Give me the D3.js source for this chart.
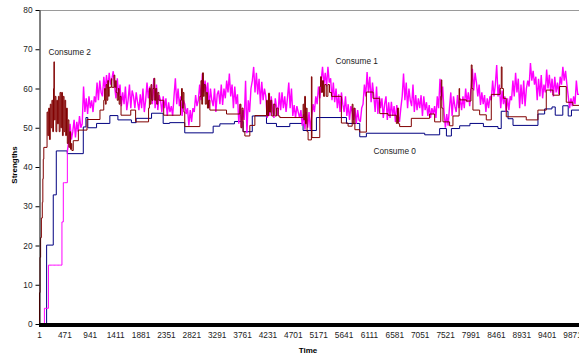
<!DOCTYPE html>
<html>
<head>
<meta charset="utf-8">
<script src="https://cdn.jsdelivr.net/npm/d3@7"></script>
<style>
  html, body { margin: 0; padding: 0; background: #fff; }
  svg { display: block; font-family: "Liberation Sans", Arial, sans-serif; }
</style>
</head>
<body>
<svg id="chart" width="579" height="355"></svg>
<script>
// Strength tick values and time-axis labels
const yTicks = [0, 10, 20, 30, 40, 50, 60, 70, 80];
const timeLabels = [1, 471, 941, 1411, 1881, 2351, 2821, 3291, 3761, 4231, 4701,
  5171, 5641, 6111, 6581, 7051, 7521, 7991, 8461, 8931, 9401, 9871];
const timeSteps = 10000;

// Consume 0: step changes as [time, strength]
const consume0 = [
  [1, 0], [142, 20.1], [265, 32.9], [321, 44.1], [524, 43.4], [821, 50.2], [870, 52.6],
  [905, 50.0], [1067, 51.1], [1313, 53.1], [1462, 52.0], [1712, 51.3], [1800, 52.4],
  [2085, 53.7], [2300, 51.1], [2420, 51.3], [2700, 48.7], [3226, 50.4], [3350, 51.0],
  [3620, 51.6], [3780, 49.0], [3950, 53.0], [4213, 51.1], [4398, 50.3], [4645, 51.1],
  [4891, 49.3], [5138, 52.6], [5694, 51.1], [5940, 47.7], [6063, 48.6], [7143, 48.2],
  [7420, 49.8], [7545, 47.9], [7637, 49.8], [7790, 50.5], [7980, 51.1], [8230, 50.3],
  [8500, 49.8], [8560, 54.2], [8686, 52.3], [8778, 50.6], [9240, 53.5], [9364, 54.8],
  [9500, 55.3], [9560, 53.2], [9700, 55.6], [9800, 53.0], [9860, 54.5], [10000, 54.5]
];

// Consume 1: strength sampled every 25 time steps, starting at time 1
const consume1Step = 25;
const consume1 = [
  0, 0, 0, 0, 4, 4, 4, 15, 15, 15, 15, 15, 15, 15, 15, 15, 15, 26, 36, 36,
  36, 44, 46.5, 51, 47, 49, 52, 47.5, 51.5, 49, 53, 50, 51, 60.5, 54, 57.5, 53.5, 58, 55, 57,
  54, 58, 56.5, 61.5, 57, 62, 59, 58, 63, 59.5, 63.4, 60, 64, 61, 62.5, 64.4, 60.5, 57.5, 62.6, 58,
  61, 55.5, 59, 56, 60.5, 54.5, 57, 61, 55, 59.5, 58, 55, 59, 56.5, 54.5, 58.5, 55, 60, 54, 57,
  61.5, 57.5, 60.5, 59, 56, 62.6, 55, 61, 54.5, 58.3, 57, 54, 58, 55, 57.5, 53, 56.5, 54, 55.5, 53,
  58, 62.6, 56, 60, 55.5, 58, 53, 57, 56, 53.5, 55, 50.5, 54.5, 51.5, 55, 54, 58.3, 55.5, 57, 61,
  57, 63.8, 59, 62, 58.5, 61.5, 55, 60, 57, 55.5, 60, 54, 58.5, 59.5, 56, 61, 55.8, 60, 57.5, 62,
  59, 63.8, 58, 61, 55, 60.5, 56, 58.5, 51, 56, 50, 54.5, 52, 62, 48.6, 57, 54, 60, 62, 65.5,
  59, 64, 58.5, 62.5, 56, 61.7, 57, 60, 58, 52.5, 57, 53, 58, 54.5, 52.5, 57.5, 55, 53, 59, 54.5,
  59, 55, 58, 54, 57.5, 61.5, 55, 60, 53, 55.8, 52.5, 55.5, 54, 52.5, 54.5, 50.5, 53.5, 49.5, 54, 50,
  54, 49.5, 53, 56, 54, 58, 56, 60.5, 57.5, 62, 65.5, 61, 64, 60.5, 65.5, 61.5, 62.6, 57, 61.5, 56.5,
  60, 55, 58.5, 54, 59, 56, 54, 58, 53, 56, 52, 55.5, 54, 52, 55, 51, 54.5, 52, 51.5, 55,
  56, 61, 58, 64.2, 59, 63, 56.5, 61.5, 58, 54, 60.5, 53.5, 58, 55, 57.5, 52.5, 56, 58, 52, 56.5,
  52.5, 56.6, 53, 55.5, 51.5, 55.8, 53, 51.5, 55, 58, 63.8, 57, 61.5, 55, 60, 57, 55.5, 61, 54, 58.3,
  54.5, 57.5, 55, 58.3, 53, 58, 54.5, 56.5, 53, 55.8, 52.5, 55, 53.5, 55.5, 52.5, 58, 55, 62.5, 57, 60.5,
  54, 50, 53.5, 50.5, 55, 59, 53, 58, 55.5, 54, 58.3, 55, 57.5, 54.5, 58, 55, 60, 56.5, 59, 55.5,
  60, 65, 59.5, 64, 61.5, 58, 61, 55.8, 59, 56, 58.3, 54, 57.5, 55, 58, 57, 62, 58, 61, 66,
  58, 61, 55, 59.5, 56, 58, 54, 57.5, 54.5, 58, 57, 62, 58, 64, 59, 62.5, 55, 61, 56, 62,
  55.5, 60, 62, 60.5, 66.5, 62, 64.5, 61, 63, 57, 62.5, 58, 63.4, 57.5, 61, 59, 64.8, 60, 63.5, 59,
  62.5, 58, 63, 59, 61.5, 58.5, 63, 61, 65.5, 62, 64.5, 61, 58, 55, 57.5, 55.5, 58, 56, 62, 58.5
];

// Consume 2: changes as [time, strength]
const consume2 = [
  [1, 0], [10, 8], [20, 17], [31, 22], [45, 27], [62, 31], [72, 37], [80, 42], [90, 45],
  [150, 54], [165, 48], [180, 55], [195, 47], [210, 56], [225, 50], [240, 57], [255, 49],
  [270, 60], [278, 66.8], [285, 52], [300, 58], [315, 49], [330, 57], [345, 51], [360, 58],
  [375, 49], [390, 59], [405, 50], [420, 59], [435, 48], [450, 58], [465, 49], [480, 57],
  [495, 48], [510, 55], [525, 46], [540, 52], [555, 45], [570, 49], [585, 44.5], [600, 46],
  [610, 44.2], [635, 46.7], [730, 49.4], [890, 52.1], [1130, 54.5],
  [1200, 57], [1215, 60], [1230, 56], [1245, 61], [1260, 57], [1275, 62], [1290, 58],
  [1300, 60.3], [1340, 62.5], [1350, 60.3], [1390, 63.4], [1405, 60.3], [1420, 62],
  [1430, 59], [1450, 57], [1470, 60], [1485, 56], [1500, 58], [1520, 53.2],
  [1700, 54.5], [1790, 51.5], [2030, 55], [2045, 60], [2060, 56], [2075, 61], [2090, 57],
  [2110, 60], [2130, 62.6], [2145, 57], [2160, 60], [2180, 56], [2200, 59], [2220, 57],
  [2310, 53.2], [2620, 57], [2640, 60], [2655, 55], [2670, 59], [2685, 54], [2700, 50.3],
  [2980, 58], [3000, 62], [3015, 56], [3030, 64], [3045, 58], [3060, 61], [3080, 56],
  [3100, 59], [3120, 55], [3140, 57], [3165, 54.5], [3473, 53.5], [3720, 56], [3740, 50],
  [3760, 55], [3780, 49], [3813, 47.9], [3905, 50.6], [3998, 53.1],
  [4214, 57], [4230, 53], [4250, 58.8], [4270, 54], [4290, 57], [4310, 53], [4340, 56],
  [4370, 53], [4400, 55], [4430, 53], [4460, 52.6],
  [4891, 56], [4905, 52], [4920, 58], [4935, 51], [4950, 55], [4965, 49], [4984, 46.9],
  [5045, 63], [5055, 47.5], [5200, 60.5], [5215, 63], [5230, 59], [5250, 62], [5270, 58],
  [5290, 61], [5320, 58], [5350, 61], [5380, 59], [5416, 58],
  [5600, 51.2], [5724, 50.4], [5800, 56], [5815, 51], [5830, 55], [5850, 49.5],
  [5940, 48.9], [6063, 59.1], [6187, 57.5], [6310, 53.6], [6463, 53.2], [6618, 51.1],
  [6640, 55], [6660, 51], [6679, 50.3], [6895, 52.4], [7234, 53.5], [7327, 51.5],
  [7440, 58], [7450, 62.2], [7460, 55], [7481, 51.5], [7604, 50.5], [7666, 53],
  [7780, 60], [7789, 57.1], [7913, 56.8], [8000, 60], [8005, 66], [8020, 60], [8036, 54.5],
  [8160, 53.3], [8283, 52], [8376, 58.5], [8540, 60], [8561, 65.5], [8575, 60],
  [8600, 57.5], [8653, 52.8], [9023, 52], [9239, 54.5], [9394, 59.6], [9517, 58.3],
  [9640, 60.5], [9764, 56.5], [9887, 55.7], [10000, 55.7]
];

const plot = { left: 39, right: 579, top: 10, bottom: 324 };

const svg = d3.select("#chart");

const x = d3.scaleLinear().domain([1, timeSteps]).range([plot.left, plot.right]);
const y = d3.scaleLinear().domain([0, 80]).range([plot.bottom, plot.top]);

// Top border of the plot area
svg.append("line")
  .attr("x1", plot.left).attr("x2", plot.right)
  .attr("y1", plot.top + 0.5).attr("y2", plot.top + 0.5)
  .attr("stroke", "#9a9a9a").attr("stroke-width", 1);

// Step-wise strengths keep their flat runs; the sampled series is joined point to point
const stepLine = d3.line()
  .x(d => x(d[0]))
  .y(d => y(d[1]))
  .curve(d3.curveStepAfter);

const c1Points = consume1.map((v, i) => [1 + i * consume1Step, v]);
c1Points.push([timeSteps, consume1[consume1.length - 1]]);
// flat start of Consume 1 is drawn as steps, the fluctuating part point to point
const c1Start = c1Points.findIndex(d => d[1] > 40);

const c1Line = d3.line()
  .x(d => x(d[0]))
  .y(d => y(d[1]))
  .curve(d3.curveLinear);

const lines = svg.append("g");

lines.append("path")
  .attr("d", stepLine(consume0))
  .attr("fill", "none").attr("stroke", "#000080").attr("stroke-width", 1);

lines.append("path")
  .attr("d", stepLine(c1Points.slice(0, c1Start + 1)))
  .attr("fill", "none").attr("stroke", "#ff00ff").attr("stroke-width", 1);
lines.append("path")
  .attr("d", c1Line(c1Points.slice(c1Start)))
  .attr("fill", "none").attr("stroke", "#ff00ff").attr("stroke-width", 1.4)
  .attr("stroke-linejoin", "miter").attr("stroke-miterlimit", 2);

lines.append("path")
  .attr("d", stepLine(consume2))
  .attr("fill", "none").attr("stroke", "#800000").attr("stroke-width", 1);

// Y axis
const yAxis = svg.append("g")
  .attr("transform", `translate(${plot.left + 0.5},0)`)
  .call(d3.axisLeft(y).tickValues(yTicks).tickSize(4).tickSizeOuter(0).tickPadding(3));
yAxis.select(".domain").attr("stroke", "#000");
yAxis.selectAll(".tick line").attr("stroke", "#000");
yAxis.selectAll("text")
  .attr("font-size", "8.3px")
  .attr("font-family", "Liberation Sans, Arial, sans-serif")
  .attr("fill", "#222");

// X axis: one tick per time step forms a solid band
svg.append("rect")
  .attr("x", plot.left).attr("y", plot.bottom - 1)
  .attr("width", plot.right - plot.left + 2).attr("height", 4)
  .attr("fill", "#000");

const xAxis = svg.append("g")
  .attr("transform", `translate(0,${plot.bottom + 3})`)
  .call(d3.axisBottom(x).tickValues(timeLabels).tickFormat(d3.format("d"))
    .tickSize(0).tickPadding(5));
xAxis.select(".domain").remove();
xAxis.selectAll("text")
  .attr("font-size", "8.3px")
  .attr("font-family", "Liberation Sans, Arial, sans-serif")
  .attr("fill", "#222");

// Axis titles
svg.append("text")
  .attr("x", 308).attr("y", 352.5)
  .attr("text-anchor", "middle")
  .attr("font-size", "8px").attr("font-weight", "bold")
  .text("Time");

svg.append("text")
  .attr("transform", "translate(17,165) rotate(-90)")
  .attr("text-anchor", "middle")
  .attr("font-size", "8px").attr("font-weight", "bold")
  .text("Strengths");

// Series labels
const labels = [
  { text: "Consume 2", x: 48.5, y: 55 },
  { text: "Consume 1", x: 335.5, y: 63.5 },
  { text: "Consume 0", x: 373.5, y: 153.5 }
];
svg.append("g").selectAll("text")
  .data(labels)
  .join("text")
  .attr("x", d => d.x).attr("y", d => d.y)
  .attr("font-size", "8.3px")
  .attr("fill", "#222")
  .text(d => d.text);
</script>
</body>
</html>
